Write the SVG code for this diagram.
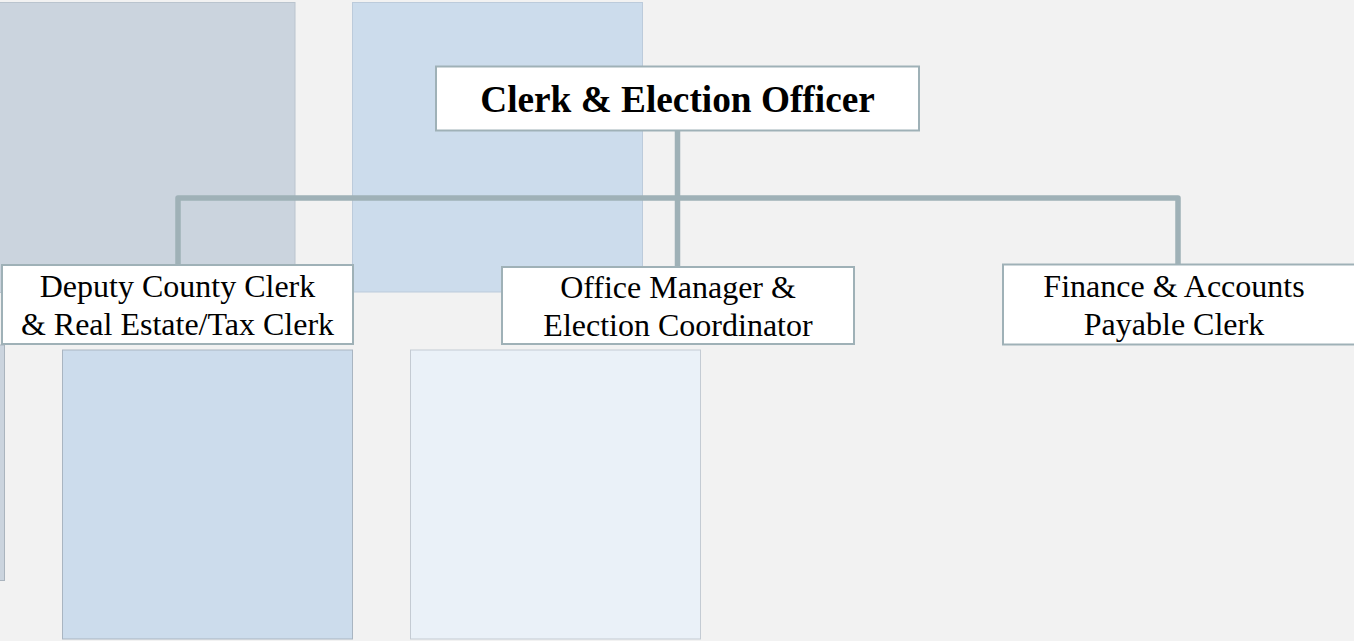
<svg xmlns="http://www.w3.org/2000/svg" width="1354" height="641" viewBox="0 0 1354 641">
<style>
.bg{fill:#f2f2f2}
.deco{stroke-width:1}
.box{fill:#ffffff;stroke:#9fb1b7;stroke-width:2}
.lbl{font-family:"Liberation Serif","Times New Roman",serif;fill:#000;text-anchor:middle}
.t1{font-size:37.3px;font-weight:bold}
.t2{font-size:32px}
.conn{fill:none;stroke:#9fb1b7;stroke-width:5.5;stroke-linejoin:round}
</style>
<rect class="bg" x="0" y="0" width="1354" height="641"/>
<g id="decor">
<rect class="deco" x="-10" y="2.5" width="305" height="290" fill="#cbd4de" stroke="#bac4ce"/>
<rect class="deco" x="352.5" y="2.5" width="290" height="289.5" fill="#ccdcec" stroke="#bccbdb"/>
<rect class="deco" x="-20" y="345" width="24.5" height="235.5" fill="#cbd4de" stroke="#aab4be"/>
<rect class="deco" x="62.5" y="350" width="290" height="289" fill="#ccdcec" stroke="#a9b5c1"/>
<rect class="deco" x="410.5" y="350" width="290" height="289" fill="#eaf1f8" stroke="#c4cbd3"/>
</g>
<g id="connectors">
<path class="conn" d="M677.5 130 V267"/>
<path class="conn" d="M178 265 V198 H1178 V264"/>
</g>
<g id="node-clerk">
<rect class="box" x="436" y="66.5" width="483" height="64"/>
<text class="lbl t1" x="677.5" y="112">Clerk &amp; Election Officer</text>
</g>
<g id="node-deputy">
<rect class="box" x="2" y="265" width="351" height="79"/>
<text class="lbl t2" x="177.5" y="297">Deputy County Clerk</text>
<text class="lbl t2" x="177.5" y="335">&amp; Real Estate/Tax Clerk</text>
</g>
<g id="node-office">
<rect class="box" x="502" y="267" width="352" height="77"/>
<text class="lbl t2" x="678" y="298">Office Manager &amp;</text>
<text class="lbl t2" x="678" y="336">Election Coordinator</text>
</g>
<g id="node-finance">
<rect class="box" x="1003" y="264.5" width="352" height="80"/>
<text class="lbl t2" x="1174" y="297">Finance &amp; Accounts</text>
<text class="lbl t2" x="1174" y="335">Payable Clerk</text>
</g>
</svg>
